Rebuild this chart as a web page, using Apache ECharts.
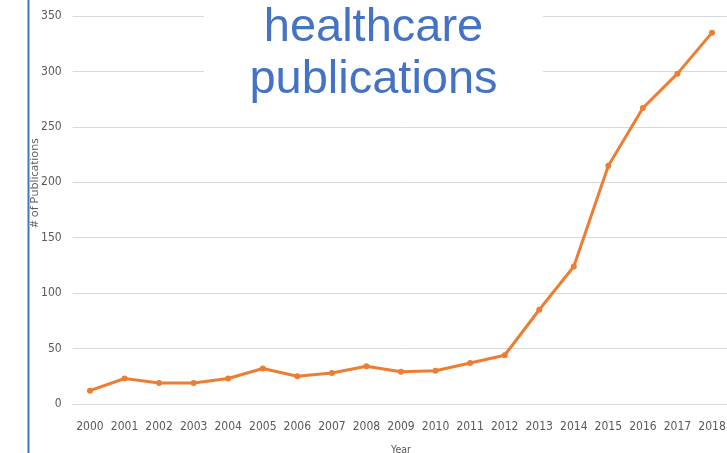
<!DOCTYPE html>
<html>
<head>
<meta charset="utf-8">
<script src="https://cdn.jsdelivr.net/npm/echarts@6/dist/echarts.min.js"></script>
<style>
html,body{margin:0;padding:0;background:#fff;}
#chart{width:727px;height:453px;}
</style>
</head>
<body>
<div id="chart"></div>
<script>
const years = ['2000','2001','2002','2003','2004','2005','2006','2007','2008','2009','2010','2011','2012','2013','2014','2015','2016','2017','2018'];
const publications = [12, 23, 19, 19, 23, 32, 25, 28, 34, 29, 30, 37, 44, 85, 124, 215, 267, 298, 335];
const titleLines = ['healthcare', 'publications'];
const yAxisTitle = '# of Publications';
const xAxisTitle = 'Year';

const labelFont = "'Liberation Sans Narrow', 'DejaVu Sans Condensed', sans-serif";
const chart = echarts.init(document.getElementById('chart'), null, {renderer: 'canvas'});
chart.setOption({
  animation: false,
  backgroundColor: '#fff',
  grid: {left: 72.7, right: -2.3, top: 16, bottom: 49, containLabel: false, outerBoundsMode: 'none'},
  xAxis: {
    type: 'category',
    data: years,
    boundaryGap: true,
    axisLine: {show: true, lineStyle: {color: '#d9d9d9', width: 1}},
    axisTick: {show: false},
    axisLabel: {color: '#595959', fontSize: 12, fontFamily: labelFont, margin: 17, interval: 0, hideOverlap: false},
    name: xAxisTitle,
    nameLocation: 'middle',
    nameGap: 41,
    nameTextStyle: {color: '#595959', fontSize: 10.5, fontFamily: labelFont}
  },
  yAxis: {
    type: 'value',
    min: 0, max: 350, interval: 50,
    axisLine: {show: false},
    axisTick: {show: false},
    splitLine: {lineStyle: {color: '#d9d9d9', width: 1}},
    axisLabel: {color: '#595959', fontSize: 12, fontFamily: labelFont, margin: 11}
  },
  series: [{
    type: 'line',
    data: publications,
    symbol: 'circle',
    symbolSize: 6,
    lineStyle: {color: '#ED7D31', width: 3},
    itemStyle: {color: '#ED7D31'}
  }],
  graphic: [
    {type: 'rect', shape: {x: 204, y: 0, width: 339, height: 108}, style: {fill: '#fff'}, z: 5},
    {type: 'text', x: 373.5, y: 2, z: 6,
     style: {text: titleLines.join('\n'), fill: '#4472C4', font: "47px 'Liberation Sans', Arial, sans-serif",
             lineHeight: 52, align: 'center', verticalAlign: 'top'}},
    {type: 'text', x: 35, y: 183, rotation: Math.PI / 2, z: 6,
     style: {text: yAxisTitle, fill: '#595959', font: "11.5px 'Open Sans', sans-serif", align: 'center', verticalAlign: 'middle'}},
    {type: 'line', shape: {x1: 28.5, y1: 0, x2: 28.5, y2: 453}, style: {stroke: '#4472C4', lineWidth: 2}, z: 6}
  ]
});
</script>
</body>
</html>
